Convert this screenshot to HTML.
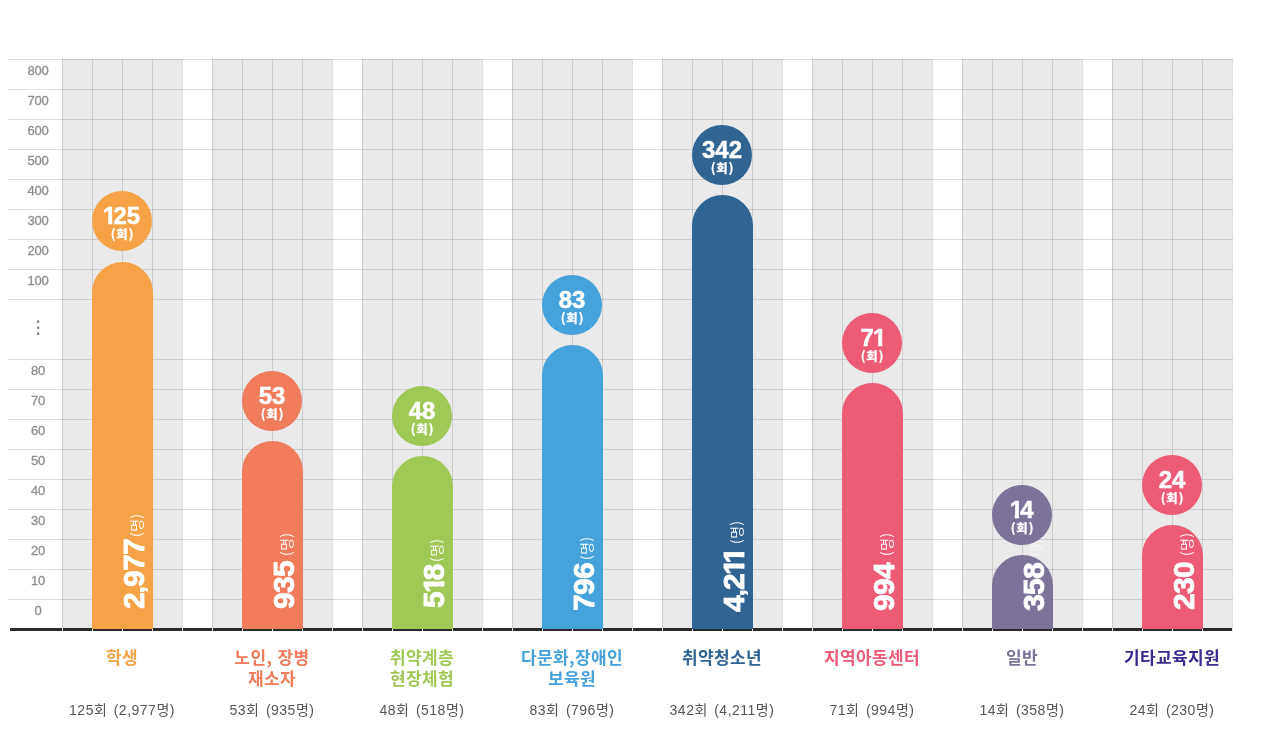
<!DOCTYPE html>
<html lang="ko"><head><meta charset="utf-8"><title>chart</title>
<style>
html,body{margin:0;padding:0;background:#fff;}
body{width:1270px;height:750px;position:relative;overflow:hidden;font-family:"Liberation Sans","Noto Sans CJK KR","NanumGothic",sans-serif;}
.abs{position:absolute;}
.grp{position:absolute;top:59px;height:570px;width:120px;background:#eaeaea;}
.vl{position:absolute;top:59px;height:569px;width:1px;background:rgba(0,0,0,.125);}
.tk{position:absolute;top:628px;height:3px;width:1px;background:#e4e4e4;}
.hl{position:absolute;left:8px;width:1225px;height:1px;background:rgba(0,0,0,.125);}
.base{position:absolute;left:10px;width:1223px;top:628px;height:3px;background:#2a2a2a;}
.yl{position:absolute;left:18px;width:40px;text-align:center;font-size:13px;font-weight:400;color:#8e8e8e;-webkit-text-stroke:0.3px #8e8e8e;line-height:14px;letter-spacing:-0.15px;}
.bar{position:absolute;width:61px;border-radius:30.5px 30.5px 0 0;}
.circ{position:absolute;width:60px;height:60px;border-radius:50%;color:#fff;text-align:center;}
.circ .n{position:absolute;left:-10px;right:-10px;top:14.4px;font-size:23px;font-weight:700;line-height:23px;--ls:0px;letter-spacing:0;transform:scaleX(1.04);-webkit-text-stroke:0.5px #fff;}
.circ .u{position:absolute;left:1px;right:0;top:35.5px;font-size:12.5px;font-weight:700;line-height:14px;letter-spacing:0.8px;-webkit-text-stroke:0.3px #fff;font-family:"Noto Sans CJK KR","NanumGothic",sans-serif;}
.rot{position:absolute;transform-origin:0 0;transform:rotate(-90deg);white-space:nowrap;color:#fff;height:31px;line-height:31px;}
.rot .p{font-size:30px;font-weight:700;--ls:-0.7px;letter-spacing:var(--ls);-webkit-text-stroke:0.8px #fff;}
.rot .m{font-size:14px;font-weight:350;letter-spacing:0.5px;font-family:"Noto Sans CJK KR","NanumGothic",sans-serif;}
.one{display:inline-block;width:0.556em;height:1em;line-height:1em;text-align:left;letter-spacing:0;margin:0 calc(-0.115em + var(--ls)) 0 -0.035em;clip-path:polygon(-1em -1em,2em -1em,2em 0.66em,0.39em 0.66em,0.39em 2em,0.215em 2em,0.215em 0.66em,-1em 0.66em);}
.cm{font-size:0.8em;margin:0;}
.name{position:absolute;width:150px;text-align:center;top:645.5px;font-size:17px;font-weight:700;line-height:21px;letter-spacing:0.4px;font-family:"Noto Sans CJK KR","NanumGothic",sans-serif;}
.sum{position:absolute;width:150px;text-align:center;top:700px;font-size:14px;line-height:20px;color:#555;letter-spacing:0.5px;word-spacing:2px;}
</style></head><body>

<div class="grp" style="left:62px"></div>
<div class="grp" style="left:212px"></div>
<div class="grp" style="left:362px"></div>
<div class="grp" style="left:512px"></div>
<div class="grp" style="left:662px"></div>
<div class="grp" style="left:812px"></div>
<div class="grp" style="left:962px"></div>
<div class="grp" style="left:1112px"></div>
<div class="hl" style="top:59px"></div>
<div class="hl" style="top:89px"></div>
<div class="hl" style="top:119px"></div>
<div class="hl" style="top:149px"></div>
<div class="hl" style="top:179px"></div>
<div class="hl" style="top:209px"></div>
<div class="hl" style="top:239px"></div>
<div class="hl" style="top:269px"></div>
<div class="hl" style="top:299px"></div>
<div class="hl" style="top:359px"></div>
<div class="hl" style="top:389px"></div>
<div class="hl" style="top:419px"></div>
<div class="hl" style="top:449px"></div>
<div class="hl" style="top:479px"></div>
<div class="hl" style="top:509px"></div>
<div class="hl" style="top:539px"></div>
<div class="hl" style="top:569px"></div>
<div class="hl" style="top:599px"></div>
<div class="base"></div>
<div class="vl" style="left:62px"></div><div class="tk" style="left:62px"></div>
<div class="vl" style="left:92px"></div><div class="tk" style="left:92px"></div>
<div class="vl" style="left:122px"></div><div class="tk" style="left:122px"></div>
<div class="vl" style="left:152px"></div><div class="tk" style="left:152px"></div>
<div class="vl" style="left:182px"></div><div class="tk" style="left:182px"></div>
<div class="vl" style="left:212px"></div><div class="tk" style="left:212px"></div>
<div class="vl" style="left:242px"></div><div class="tk" style="left:242px"></div>
<div class="vl" style="left:272px"></div><div class="tk" style="left:272px"></div>
<div class="vl" style="left:302px"></div><div class="tk" style="left:302px"></div>
<div class="vl" style="left:332px"></div><div class="tk" style="left:332px"></div>
<div class="vl" style="left:362px"></div><div class="tk" style="left:362px"></div>
<div class="vl" style="left:392px"></div><div class="tk" style="left:392px"></div>
<div class="vl" style="left:422px"></div><div class="tk" style="left:422px"></div>
<div class="vl" style="left:452px"></div><div class="tk" style="left:452px"></div>
<div class="vl" style="left:482px"></div><div class="tk" style="left:482px"></div>
<div class="vl" style="left:512px"></div><div class="tk" style="left:512px"></div>
<div class="vl" style="left:542px"></div><div class="tk" style="left:542px"></div>
<div class="vl" style="left:572px"></div><div class="tk" style="left:572px"></div>
<div class="vl" style="left:602px"></div><div class="tk" style="left:602px"></div>
<div class="vl" style="left:632px"></div><div class="tk" style="left:632px"></div>
<div class="vl" style="left:662px"></div><div class="tk" style="left:662px"></div>
<div class="vl" style="left:692px"></div><div class="tk" style="left:692px"></div>
<div class="vl" style="left:722px"></div><div class="tk" style="left:722px"></div>
<div class="vl" style="left:752px"></div><div class="tk" style="left:752px"></div>
<div class="vl" style="left:782px"></div><div class="tk" style="left:782px"></div>
<div class="vl" style="left:812px"></div><div class="tk" style="left:812px"></div>
<div class="vl" style="left:842px"></div><div class="tk" style="left:842px"></div>
<div class="vl" style="left:872px"></div><div class="tk" style="left:872px"></div>
<div class="vl" style="left:902px"></div><div class="tk" style="left:902px"></div>
<div class="vl" style="left:932px"></div><div class="tk" style="left:932px"></div>
<div class="vl" style="left:962px"></div><div class="tk" style="left:962px"></div>
<div class="vl" style="left:992px"></div><div class="tk" style="left:992px"></div>
<div class="vl" style="left:1022px"></div><div class="tk" style="left:1022px"></div>
<div class="vl" style="left:1052px"></div><div class="tk" style="left:1052px"></div>
<div class="vl" style="left:1082px"></div><div class="tk" style="left:1082px"></div>
<div class="vl" style="left:1112px"></div><div class="tk" style="left:1112px"></div>
<div class="vl" style="left:1142px"></div><div class="tk" style="left:1142px"></div>
<div class="vl" style="left:1172px"></div><div class="tk" style="left:1172px"></div>
<div class="vl" style="left:1202px"></div><div class="tk" style="left:1202px"></div>
<div class="vl" style="left:1232px"></div><div class="tk" style="left:1232px"></div>
<div class="yl" style="top:63.5px">800</div>
<div class="yl" style="top:93.5px">700</div>
<div class="yl" style="top:123.5px">600</div>
<div class="yl" style="top:153.5px">500</div>
<div class="yl" style="top:183.5px">400</div>
<div class="yl" style="top:213.5px">300</div>
<div class="yl" style="top:243.5px">200</div>
<div class="yl" style="top:273.5px">100</div>
<div class="yl" style="top:317px;font-weight:400;font-size:17.6px;line-height:20px;font-family:'DejaVu Sans',sans-serif;color:#7a7a7a;-webkit-text-stroke:0.4px #7a7a7a">⋮</div>
<div class="yl" style="top:363.5px">80</div>
<div class="yl" style="top:393.5px">70</div>
<div class="yl" style="top:423.5px">60</div>
<div class="yl" style="top:453.5px">50</div>
<div class="yl" style="top:483.5px">40</div>
<div class="yl" style="top:513.5px">30</div>
<div class="yl" style="top:543.5px">20</div>
<div class="yl" style="top:573.5px">10</div>
<div class="yl" style="top:603.5px">0</div>
<div class="bar" style="left:92px;top:262px;height:367px;background:#F6A347"></div>
<div class="rot" style="left:117.8px;top:609.0px"><span class="p">2<span class="cm">,</span>977</span></div>
<div class="rot rm" style="left:121px;top:537.4px"><span class="m">(명)</span></div>
<div class="circ" style="left:92px;top:191px;background:#F6A347"><div class="n"><span class="one">1</span>25</div><div class="u">(회)</div></div>
<div class="name" style="left:47px;color:#F6A347">학생</div>
<div class="sum" style="left:47px">125회 (2,977명)</div>
<div class="bar" style="left:242px;top:441px;height:188px;background:#F07C5C"></div>
<div class="rot" style="left:267.8px;top:609.0px"><span class="p">935</span></div>
<div class="rot rm" style="left:271px;top:556.3px"><span class="m">(명)</span></div>
<div class="circ" style="left:242px;top:371px;background:#F07C5C"><div class="n">53</div><div class="u">(회)</div></div>
<div class="name" style="left:197px;color:#F07C5C">노인, 장병<br>재소자</div>
<div class="sum" style="left:197px">53회 (935명)</div>
<div class="bar" style="left:392px;top:456px;height:173px;background:#A0C857"></div>
<div class="rot" style="left:417.8px;top:608.3px"><span class="p">5<span class="one">1</span>8</span></div>
<div class="rot rm" style="left:421px;top:561.7px"><span class="m">(명)</span></div>
<div class="circ" style="left:392px;top:386px;background:#A0C857"><div class="n">48</div><div class="u">(회)</div></div>
<div class="name" style="left:347px;color:#A0C857">취약계층<br>현장체험</div>
<div class="sum" style="left:347px">48회 (518명)</div>
<div class="bar" style="left:542px;top:345px;height:284px;background:#46A2DA"></div>
<div class="rot" style="left:567.8px;top:611.0px"><span class="p">796</span></div>
<div class="rot rm" style="left:571px;top:559.7px"><span class="m">(명)</span></div>
<div class="circ" style="left:542px;top:275px;background:#46A2DA"><div class="n">83</div><div class="u">(회)</div></div>
<div class="name" style="left:497px;color:#46A2DA">다문화,장애인<br>보육원</div>
<div class="sum" style="left:497px">83회 (796명)</div>
<div class="bar" style="left:692px;top:195px;height:434px;background:#2F6493"></div>
<div class="rot" style="left:717.8px;top:611.6px"><span class="p">4<span class="cm">,</span>2<span class="one">1</span><span class="one">1</span></span></div>
<div class="rot rm" style="left:721px;top:543.7px"><span class="m">(명)</span></div>
<div class="circ" style="left:692px;top:125px;background:#2F6493"><div class="n">342</div><div class="u">(회)</div></div>
<div class="name" style="left:647px;color:#2F6493">취약청소년</div>
<div class="sum" style="left:647px">342회 (4,211명)</div>
<div class="bar" style="left:842px;top:383px;height:246px;background:#EE5B76"></div>
<div class="rot" style="left:867.8px;top:611.0px"><span class="p">994</span></div>
<div class="rot rm" style="left:871px;top:556.3px"><span class="m">(명)</span></div>
<div class="circ" style="left:842px;top:313px;background:#EE5B76"><div class="n">7<span class="one">1</span></div><div class="u">(회)</div></div>
<div class="name" style="left:797px;color:#EE5B76">지역아동센터</div>
<div class="sum" style="left:797px">71회 (994명)</div>
<div class="bar" style="left:992px;top:555px;height:74px;background:#7D7399"></div>
<div class="rot" style="left:1017.8px;top:611.0px"><span class="p">358</span></div>
<div class="rot rm" style="left:1021px;top:557.0px;opacity:.55"><span class="m">(명)</span></div>
<div class="circ" style="left:992px;top:485px;background:#7D7399"><div class="n"><span class="one">1</span>4</div><div class="u">(회)</div></div>
<div class="name" style="left:947px;color:#7D7399">일반</div>
<div class="sum" style="left:947px">14회 (358명)</div>
<div class="bar" style="left:1142px;top:525px;height:104px;background:#EE5B76"></div>
<div class="rot" style="left:1167.8px;top:610.3px"><span class="p">230</span></div>
<div class="rot rm" style="left:1171px;top:555.7px"><span class="m">(명)</span></div>
<div class="circ" style="left:1142px;top:455px;background:#EE5B76"><div class="n">24</div><div class="u">(회)</div></div>
<div class="name" style="left:1097px;color:#3A2A8E">기타교육지원</div>
<div class="sum" style="left:1097px">24회 (230명)</div>
</body></html>
